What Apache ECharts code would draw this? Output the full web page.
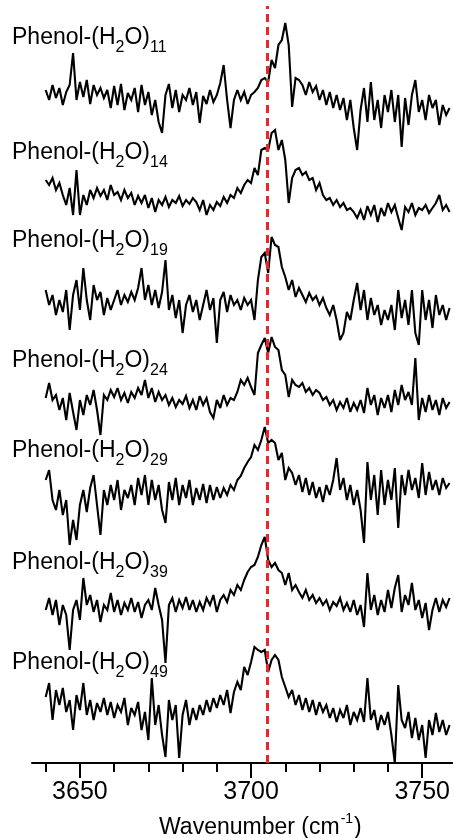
<!DOCTYPE html>
<html>
<head>
<meta charset="utf-8">
<script src="https://cdn.jsdelivr.net/npm/echarts@6/dist/echarts.min.js"></script>
<style>
  html, body { margin: 0; padding: 0; background: #fff; }
  #chart { width: 453px; height: 838px; }
</style>
</head>
<body>
<div id="chart"></div>
<script>
// ——— data (1 cm-1 steps from 3640) ———
const wnStart = 3640;
const refLine = 3704.6;
const minorTicks = [3640, 3650, 3660, 3670, 3680, 3690, 3700, 3710, 3720, 3730, 3740, 3750];
const majorTicks = [3650, 3700, 3750];
const clusterSizes = ['11', '14', '19', '24', '29', '39', '49'];

const sig11 = [10, 0, 15, 2, 12, -5, 8, 15, 47, 0,
  18, 3, 20, -4, 15, 5, 12, 2, 10, -8,
  14, -5, 16, -10, 7, 0, 12, -12, 15, -5,
  8, -15, 0, -22, -33, 5, 16, -8, 10, -12,
  5, 0, 12, -5, 8, -23, 4, -4, 10, -2,
  5, 17, 35, 0, -28, 0, 10, 0, 8, -4,
  5, 8, 12, 20, 22, 18, 40, 32, 55, 60,
  77, 55, -7, 22, 20, 15, 5, 18, 8, 14,
  0, 10, -5, 8, -8, 5, -10, 2, -20, 0,
  -28, -50, -10, 12, -22, 18, -20, 0, -28, 5,
  -12, 10, -22, 5, -47, 2, -25, 5, 20, -12,
  0, -20, 5, -8, 0, -25, -5, -15, -8];
const sig14 = [15, 10, 17, 5, 12, 0, -10, 7, -20, 25,
  -20, 0, -10, 5, -3, 7, -1, 5, -5, 10,
  0, 3, -5, 5, -3, 2, -10, -1, -8, 0,
  -13, -3, -17, -5, -10, -2, -12, -5, -8, -1,
  -11, -5, -9, -3, -7, -15, -5, -20, -10, -15,
  -7, -11, -2, -8, 0, -3, 7, 2, 10, 15,
  12, 27, 20, 45, 47, 45, 62, 65, 45, 55,
  35, -8, 17, 25, 27, 20, 23, 15, 17, 5,
  12, 0, -5, -3, -10, -5, -12, -8, -15, -13,
  -17, -23, -15, -25, -11, -20, -10, -27, -13, -21,
  -8, -17, -10, -23, -35, -12, -17, -8, -20, -13,
  -15, -10, -18, -13, -8, 0, -15, -10, -17];
const sig19 = [10, -5, 5, -15, 0, -12, 10, -30, 5, 20,
  -10, 32, 0, -20, 15, 0, 8, -15, 2, -10,
  0, 10, -5, 5, -2, 8, 0, 12, 32, 0,
  15, -5, 10, -8, 8, 40, -10, 5, -18, 0,
  -33, -5, 5, -12, 0, -20, -5, 10, -10, 2,
  -43, 0, 8, -12, 5, -5, 0, -10, 2, -5,
  0, -20, 20, 43, 47, 27, 63, 55, 53, 33,
  23, 10, 20, 3, 12, 5, -2, 7, 0, 4,
  -5, 2, -8, -15, -5, -20, -40, -33, -12, -20,
  0, 17, -10, 10, -20, 2, -15, -5, -25, -10,
  -20, -5, -30, 10, -18, 0, -25, 10, -33, -45,
  10, -20, 0, -28, 5, -15, -5, -20, -8];
const sig24 = [2, 17, 0, 5, -10, 2, -20, 7, -12, -30,
  0, -15, 5, -5, 10, -10, -35, 5, 0, 10,
  3, 12, 0, 7, -3, 8, 2, 12, 5, 20,
  2, 12, -2, 8, 0, 5, -5, 2, -7, 0,
  -4, 4, -8, 0, -10, 4, -5, 2, -12, -18,
  0, -8, 5, -5, 2, 0, 8, 20, 15, 22,
  13, 5, 47, 55, 62, 47, 63, 53, 50, 30,
  25, 3, 20, 15, 13, 17, 8, 12, 5, 10,
  7, 0, 3, -5, 0, -10, -2, -8, 2, -12,
  -3, -10, 0, -13, 12, -5, 5, -15, 2, -8,
  5, -12, 10, -5, 15, 0, 8, -5, 42, -20,
  2, -12, 5, -10, 0, -15, 2, -8, -2];
const sig29 = [15, 25, -5, -15, 5, -20, -5, -50, -25, -45,
  -10, 5, -17, 7, 20, -10, -40, 5, -10, 10,
  -5, 15, -15, 5, -3, 10, -10, 17, 0, 20,
  -10, 15, -5, 10, -15, -28, 13, -5, 17, -10,
  10, -3, 15, -10, 7, -5, 11, -8, 10, -5,
  8, -3, 7, 0, 10, 5, 15, 19, 27, 33,
  38, 50, 45, 55, 68, 52, 55, 52, 35, 42,
  15, 27, 22, 10, 20, 3, 17, 0, 13, -3,
  8, -7, 10, 0, 15, 37, 5, 17, -5, 10,
  -10, 5, -15, -48, 33, -5, 20, -20, 25, -10,
  15, -5, 27, -33, 20, 0, 25, 5, 17, -3,
  32, 0, 23, 5, 15, 0, 17, 7, 12];
const sig39 = [-2, 10, -7, 8, -17, 3, -7, -42, -2, 8,
  -12, 30, 3, 13, -4, 8, -14, 3, -2, 15,
  -4, 8, -7, 5, -2, 10, -4, 6, -10, 3,
  8, -2, 20, 3, -12, -55, 3, 10, -4, 8,
  0, 11, -2, 8, -4, 6, -2, 10, 3, 13,
  -4, 8, 13, 6, 18, 13, 23, 18, 28, 36,
  41, 43, 51, 63, 71, 48, 41, 45, 38, 35,
  23, 35, 18, 23, 16, 10, 18, 8, 13, 5,
  10, 3, 8, -2, 6, 2, 10, -2, 5, -4,
  8, -7, 3, -19, 35, -2, 13, -7, 8, -4,
  18, 0, 20, 33, -4, 13, 3, 25, -2, 8,
  -10, 5, -22, -2, 10, -4, 8, 1, 10];
const sig49 = [15, 29, -8, 22, 7, 24, 0, 12, -18, 17,
  2, 29, -3, 12, -8, 9, 0, 14, -3, 10,
  -6, 7, 0, 14, -13, 4, -3, 10, -18, 0,
  -28, 34, -13, 7, -23, -45, 12, -8, 7, -46,
  -3, 12, -13, 4, -8, 7, -3, 12, 0, 14,
  4, 17, 7, 22, -1, 20, 30, 22, 45, 37,
  50, 65, 62, 60, 62, 40, 52, 57, 52, 35,
  25, 15, 22, 7, 17, 2, 14, 0, 12, -3,
  10, 0, 7, -6, 4, -10, 2, -6, 7, -13,
  0, -8, 4, -10, 34, -8, 2, -18, -3, -13,
  0, -23, -51, 27, -8, -16, 0, -26, -6, -28,
  -13, -46, -8, -23, -1, -20, -8, -23, -13];

const signals = [sig11, sig14, sig19, sig24, sig29, sig39, sig49];

// ——— layout ———
const offsets   = [663, 568, 463, 363, 268, 155, 51];   // vertical stacking of traces
const labelTops = [26, 141, 229, 349, 439, 551, 651];
const FONT = '"Liberation Sans", Arial, sans-serif';

const chart = echarts.init(document.getElementById('chart'));

const series = signals.map((sig, k) => ({
  type: 'line',
  xAxisIndex: 0,
  data: sig.map((v, i) => [wnStart + i, offsets[k] + v]),
  showSymbol: false,
  symbol: 'none',
  silent: true,
  animation: false,
  lineStyle: { color: '#000', width: 2.1, join: 'miter', miterLimit: 3 },
  z: 2
}));
series[0].markLine = {
  silent: true,
  symbol: 'none',
  label: { show: false },
  lineStyle: { color: '#e8262b', type: [8, 5], width: 3 },
  data: [{ xAxis: refLine }],
  z: 5
};

chart.setOption({
  backgroundColor: '#fff',
  animation: false,
  grid: { left: 32, right: 0, top: 6, bottom: 75 },
  xAxis: [{
    type: 'value', min: 3636, max: 3758.8, position: 'bottom',
    axisLine: { show: true, lineStyle: { color: '#000', width: 2 } },
    axisTick: { show: true, customValues: minorTicks, length: 9, lineStyle: { color: '#000', width: 2 } },
    axisLabel: { show: false },
    splitLine: { show: false }
  }, {
    type: 'value', min: 3636, max: 3758.8, position: 'bottom',
    axisLine: { show: false },
    axisTick: { show: true, customValues: majorTicks, length: 15, lineStyle: { color: '#000', width: 2 } },
    axisLabel: {
      show: true, customValues: majorTicks, margin: 17, color: '#000',
      fontSize: 25, fontFamily: FONT, formatter: v => String(v)
    },
    splitLine: { show: false }
  }],
  yAxis: { type: 'value', min: 0, max: 757, show: false },
  graphic: clusterSizes.map((n, k) => ({
    type: 'text',
    left: 12,
    top: labelTops[k],
    silent: true,
    style: {
      text: '{m|Phenol-(H}{s|2}{m|O)}{s|' + n + '}',
      fill: '#000',
      rich: {
        m: { fontSize: 23, fontFamily: FONT, lineHeight: 24, padding: [0, 0, 6, 0] },
        s: { fontSize: 16, fontFamily: FONT, lineHeight: 16, padding: [14, 0, 0, 0] }
      }
    }
  })).concat([{
    type: 'text',
    left: 159,
    top: 812,
    silent: true,
    style: {
      text: '{m|Wavenumber (cm}{p|-1}{m|)}',
      fill: '#000',
      rich: {
        m: { fontSize: 23, fontFamily: FONT, lineHeight: 27, verticalAlign: 'bottom' },
        p: { fontSize: 14, fontFamily: FONT, lineHeight: 14, padding: [0, 1, 12, 1], verticalAlign: 'top' }
      }
    }
  }]),
  series: series
});
</script>
</body>
</html>
